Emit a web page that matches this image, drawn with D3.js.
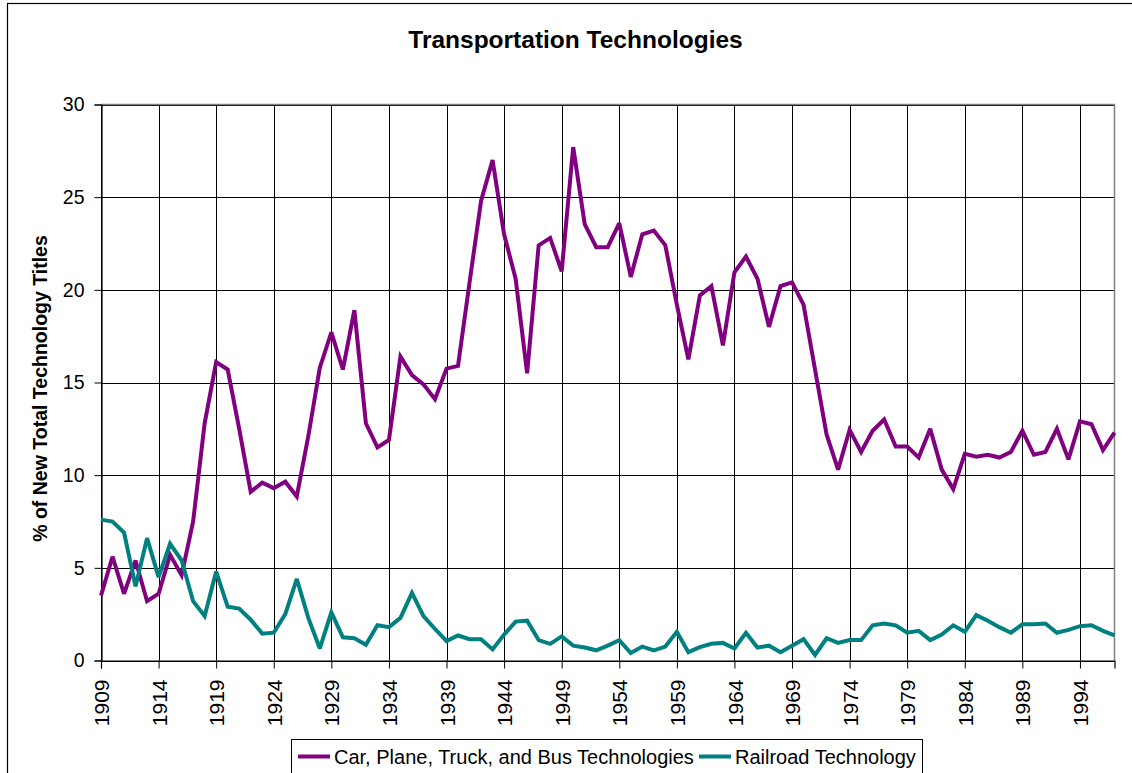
<!DOCTYPE html>
<html>
<head>
<meta charset="utf-8">
<script src="https://cdn.jsdelivr.net/npm/d3@7"></script>
<style>
  html, body { margin: 0; padding: 0; background: #fff; }
  svg { display: block; font-family: "Liberation Sans", Arial, sans-serif; }
</style>
</head>
<body>
<svg id="chart" width="1132" height="773"></svg>
<script>
const years = d3.range(1909, 1998);
const tickYears = [1909, 1914, 1919, 1924, 1929, 1934, 1939, 1944, 1949, 1954, 1959, 1964, 1969, 1974, 1979, 1984, 1989, 1994];
const yTicks = [0, 5, 10, 15, 20, 25, 30];

const carPlaneTruckBus = [
  3.5, 5.6, 3.6, 5.4, 3.2, 3.6, 5.7, 4.6, 7.5, 12.8,
  16.1, 15.7, 12.5, 9.1, 9.6, 9.3, 9.65, 8.85, 12.1, 15.8,
  17.7, 15.7, 18.9, 12.8, 11.5, 11.9, 16.4, 15.4, 14.9, 14.1,
  15.75, 15.9, 20.4, 24.8, 27.0, 23.0, 20.6, 15.5, 22.4, 22.8,
  21.0, 27.7, 23.55, 22.3, 22.3, 23.6, 20.7, 23.0, 23.2, 22.4,
  19.2, 16.25, 19.7, 20.2, 17.0, 20.95, 21.8, 20.6, 18.0, 20.2,
  20.4, 19.2, 15.7, 12.2, 10.3, 12.45, 11.25, 12.4, 13.0, 11.55,
  11.55, 10.95, 12.5, 10.3, 9.25, 11.15, 11.0, 11.1, 10.95, 11.25,
  12.4, 11.1, 11.25, 12.5, 10.85, 12.9, 12.75, 11.35, 12.3
];

const railroad = [
  7.6, 7.5, 6.9, 4.0, 6.6, 4.5, 6.3, 5.4, 3.2, 2.4,
  4.8, 2.9, 2.8, 2.2, 1.45, 1.5, 2.5, 4.4, 2.3, 0.65,
  2.6, 1.25, 1.2, 0.85, 1.9, 1.8, 2.3, 3.65, 2.4, 1.7,
  1.05, 1.35, 1.15, 1.15, 0.6, 1.4, 2.1, 2.15, 1.1, 0.9,
  1.3, 0.8, 0.7, 0.55, 0.8, 1.1, 0.4, 0.75, 0.55, 0.75,
  1.55, 0.45, 0.72, 0.9, 0.95, 0.65, 1.5, 0.7, 0.8, 0.45,
  0.8, 1.15, 0.3, 1.2, 0.95, 1.1, 1.1, 1.9, 2.0, 1.9,
  1.5, 1.6, 1.1, 1.4, 1.9, 1.55, 2.45, 2.15, 1.8, 1.5,
  1.95, 1.95, 2.0, 1.5, 1.65, 1.85, 1.9, 1.6, 1.35
];

const seriesNames = ["Car, Plane, Truck, and Bus Technologies", "Railroad Technology"];
const seriesColors = ["#800080", "#008080"];
const series = [carPlaneTruckBus, railroad];

const svg = d3.select("#chart");
const W = 1132, H = 773;
const plot = { left: 101, right: 1114.5, top: 104.5, bottom: 660.5 };

// outer chart border
svg.append("rect").attr("x", 7.5).attr("y", 3.5).attr("width", W + 10).attr("height", H + 10)
  .attr("fill", "#fff").attr("stroke", "#000").attr("stroke-width", 1.2);

const x = d3.scaleLinear().domain([1909, 1997]).range([plot.left, plot.right]);
const y = d3.scaleLinear().domain([0, 30]).range([plot.bottom, plot.top]);

// title
svg.append("text").attr("x", 575.5).attr("y", 48).attr("text-anchor", "middle")
  .attr("font-size", 24.5).attr("font-weight", "bold").text("Transportation Technologies");

// y label
svg.append("text").attr("transform", `translate(47,${(plot.top + plot.bottom) / 2 + 6}) rotate(-90)`)
  .attr("text-anchor", "middle").attr("font-size", 19.5).attr("font-weight", "bold")
  .text("% of New Total Technology Titles");

// gridlines
const grid = svg.append("g");
grid.selectAll("line.h").data(yTicks).join("line")
  .attr("x1", plot.left).attr("x2", plot.right)
  .attr("y1", d => Math.round(y(d)) + 0.5).attr("y2", d => Math.round(y(d)) + 0.5)
  .attr("stroke", "#000").attr("stroke-width", 1);
grid.selectAll("line.v").data(tickYears).join("line")
  .attr("x1", d => Math.round(x(d)) + 0.5).attr("x2", d => Math.round(x(d)) + 0.5)
  .attr("y1", plot.top).attr("y2", plot.bottom)
  .attr("stroke", "#000").attr("stroke-width", 1);

// plot border (right, top) gray
svg.append("path")
  .attr("d", `M${plot.left},${plot.top}H${plot.right}V${plot.bottom}`)
  .attr("fill", "none").attr("stroke", "#808080").attr("stroke-width", 1.5);

// axes
const yAxis = d3.axisLeft(y).tickValues(yTicks).tickSize(7).tickPadding(10);
const gy = svg.append("g").attr("transform", `translate(${plot.left + 0.5},0)`).call(yAxis);
gy.select(".domain").attr("stroke", "#000").attr("stroke-width", 1.2);
gy.selectAll(".tick line").attr("stroke", "#000");
gy.selectAll(".tick text").attr("font-size", 19.5).attr("font-family", "Liberation Sans, Arial, sans-serif").attr("fill", "#000");

const xAxis = d3.axisBottom(x).tickValues(tickYears).tickFormat(d3.format("d")).tickSize(8).tickPadding(0);
const gx = svg.append("g").attr("transform", `translate(0,${plot.bottom})`).call(xAxis);
gx.select(".domain").attr("stroke", "#000").attr("stroke-width", 1.2);
gx.selectAll(".tick line").attr("stroke", "#000");
gx.selectAll(".tick text")
  .attr("font-size", 21).attr("font-family", "Liberation Sans, Arial, sans-serif").attr("fill", "#000")
  .attr("transform", "rotate(-90)").attr("text-anchor", "end")
  .attr("x", -19).attr("y", 0).attr("dy", "0.36em");

// lines
const line = d3.line().x((d, i) => x(years[i])).y(d => y(d));
series.forEach((s, k) => {
  svg.append("path").datum(s).attr("d", line)
    .attr("fill", "none").attr("stroke", seriesColors[k]).attr("stroke-width", 4)
    .attr("stroke-linejoin", "miter").attr("stroke-miterlimit", 3);
});

// legend
const lg = svg.append("g");
lg.append("rect").attr("x", 291.5).attr("y", 739.5).attr("width", 631).attr("height", 40)
  .attr("fill", "#fff").attr("stroke", "#000").attr("stroke-width", 1);
const legendItems = [{ x: 298, tx: 334 }, { x: 699, tx: 735 }];
legendItems.forEach((it, k) => {
  lg.append("line").attr("x1", it.x).attr("x2", it.x + 32).attr("y1", 756.5).attr("y2", 756.5)
    .attr("stroke", seriesColors[k]).attr("stroke-width", 4);
  lg.append("text").attr("x", it.tx).attr("y", 764).attr("font-size", 20).text(seriesNames[k]);
});
</script>
</body>
</html>
